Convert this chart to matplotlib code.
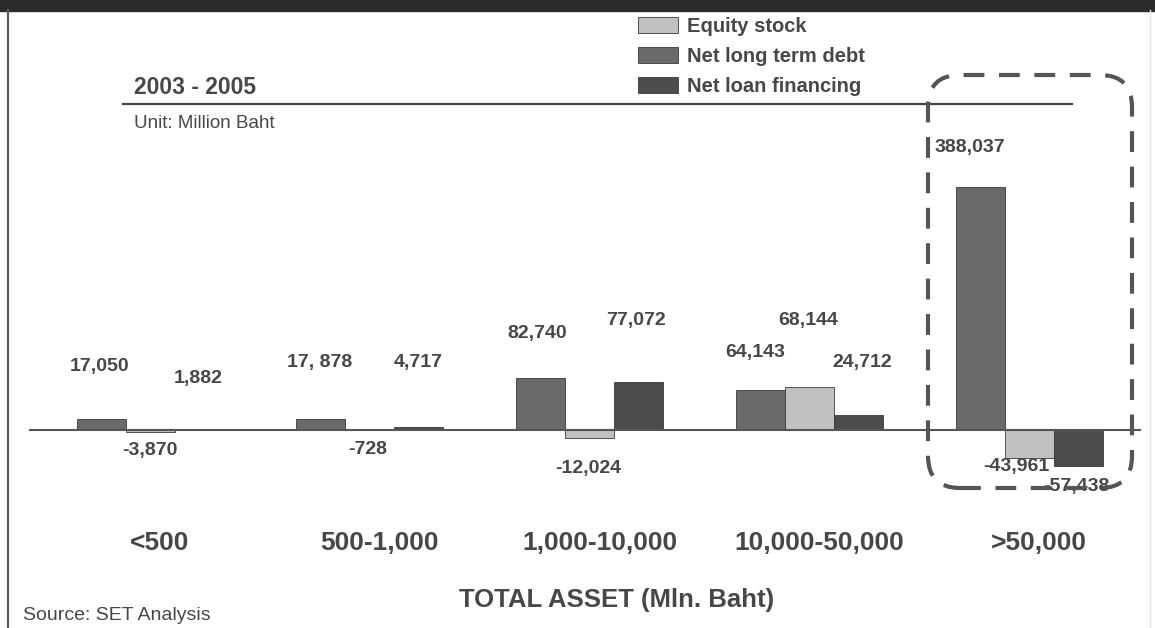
import numpy as np
import matplotlib
matplotlib.use("Agg")
import matplotlib.pyplot as plt
from matplotlib.patches import FancyBboxPatch, Rectangle
from matplotlib.lines import Line2D
from matplotlib.transforms import IdentityTransform, blended_transform_factory

plt.rcParams['font.family'] = ['Liberation Sans', 'DejaVu Sans']

categories = ["<500", "500-1,000", "1,000-10,000", "10,000-50,000", ">50,000"]
series_names = ["Net long term debt", "Equity stock", "Net loan financing"]
long_term_debt = [17050, 17878, 82740, 64143, 388037]
equity_stock = [-3870, -728, -12024, 68144, -43961]
loan_financing = [1882, 4717, 77072, 24712, -57438]
value_labels = [
    ["17,050", "17, 878", "82,740", "64,143", "388,037"],
    ["-3,870", "-728", "-12,024", "68,144", "-43,961"],
    ["1,882", "4,717", "77,072", "24,712", "-57,438"],
]

# layout (pixels of the 1155x628 picture)
W, H = 1155, 628
label_px = [
    [(100, 367), (320, 363), (537, 333), (755, 352), (935, 148)],
    [(150, 450), (368, 450), (588, 468), (808, 320), (1016, 467)],
    [(198, 378), (418, 363), (636, 320), (862, 362), (1076, 486)],
]
colors = ["#6a6a6a", "#c0c0c0", "#4c4c4c"]
text_c = "#474747"

fig = plt.figure(figsize=(W / 100, H / 100), dpi=100)
ax = fig.add_axes([0, 0, 1, 1])
step = 219.75
ax.set_xlim((0 - 150) / step, (W - 150) / step)
upp = 388037 / 243.0
ax.set_ylim(-(H - 430) * upp, 430 * upp)
ax.axis("off")

def px(x, y):
    return x / W, 1 - y / H

w = 49 / step
x = np.arange(len(categories))
bars = []
for j, vals in enumerate([long_term_debt, equity_stock, loan_financing]):
    b = ax.bar(x + (j - 1) * w, vals, width=w, color=colors[j],
               edgecolor="#3a3a3a", linewidth=0.6, label=series_names[j], zorder=2)
    bars.append(b)
    for i in range(len(categories)):
        ha = "left" if (j == 0 and i == 4) else "center"
        fig.text(*px(*label_px[j][i]), value_labels[j][i], ha=ha, va="center",
                 fontsize=14, fontweight="bold", color=text_c)

ax.axhline(0, xmin=30 / W, xmax=1140 / W, color="#555555", lw=1.5, zorder=3)

trans = blended_transform_factory(ax.transData, fig.transFigure)
for i, c in enumerate(categories):
    ax.text(i + 10 / step, 1 - 543 / H, c, transform=trans, ha="center", va="center",
            fontsize=19, fontweight="bold", color=text_c)

# header bar and borders
fig.patches.append(Rectangle((0, 1 - 11 / H), 1, 11 / H, transform=fig.transFigure,
                             color="#2b2b2b", zorder=0))
fig.lines.append(Line2D([8 / W, 8 / W], [0, 1 - 10 / H], transform=fig.transFigure,
                        color="#5a5a5a", lw=1.5))
fig.lines.append(Line2D([1150 / W, 1150 / W], [0, 1 - 10 / H], transform=fig.transFigure,
                        color="#e4e4e4", lw=1))
fig.lines.append(Line2D([123 / W, 1072 / W], [1 - 104 / H] * 2, transform=fig.transFigure,
                        color="#444444", lw=1.6))

fig.text(*px(134, 88), "2003 - 2005", fontsize=16.5, fontweight="bold",
         color=text_c, va="center")
fig.text(*px(134, 124), "Unit: Million Baht", fontsize=13.5, color=text_c, va="center")
fig.text(*px(617, 600), "TOTAL ASSET (Mln. Baht)", fontsize=18.5, fontweight="bold",
         color=text_c, ha="center", va="center")
fig.text(*px(23, 616), "Source: SET Analysis", fontsize=14, color=text_c, va="center")

# dashed rounded highlight box
box = FancyBboxPatch((928, H - 488), 204, 413, boxstyle="round,pad=0,rounding_size=32",
                     transform=IdentityTransform(), fill=False, edgecolor="#555555",
                     lw=3, linestyle=(0, (5, 3.5)), zorder=5)
fig.patches.append(box)

handles = [bars[1], bars[0], bars[2]]
fig.legend(handles, [series_names[1], series_names[0], series_names[2]],
           loc="upper left", bbox_to_anchor=px(638, 17), frameon=False,
           borderpad=0, borderaxespad=0,
           handlelength=2.0, handleheight=0.85, labelspacing=0.55, handletextpad=0.45,
           prop={"size": 14.5, "weight": "bold"}, labelcolor=text_c)

fig.savefig("out.png", dpi=100)
